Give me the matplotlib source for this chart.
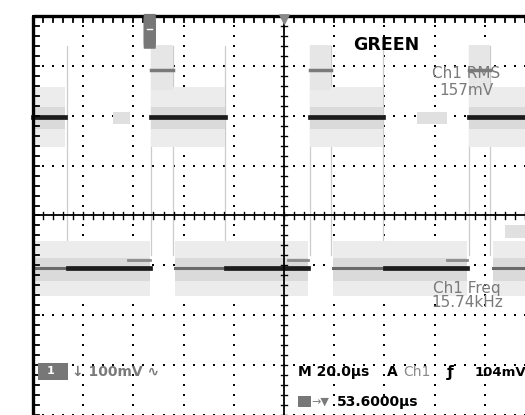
import numpy as np
import matplotlib
matplotlib.use("Agg")
import matplotlib.pyplot as plt
from matplotlib.patches import Rectangle, FancyBboxPatch

# --------------------
# scope trace data (time in us, level in divisions)
# --------------------
top_level = 1.98
top_dark = [(0, 12.7), (47.0, 76.5), (110.4, 139.4), (173.7, 200)]
top_blobs = [(31.9, 38.6), (153.0, 165.0)]
top_noise = 0.6

pulse_level = 2.93
pulse_segs = [(47.0, 55.8), (110.4, 118.7), (173.7, 182.1)]

bot_level = -1.06
bot_segs = [(0, 46.6), (56.6, 109.6), (119.5, 172.9), (183.3, 200)]
bot_dark = [(14.0, 46.6), (76.9, 109.6), (140.2, 172.9)]
bot_bump_level = -0.9
bot_bumps = [(37.8, 46.6), (101.6, 109.6), (165.0, 172.9)]
bot_noise = 0.55

edges = [13.5, 47.0, 55.8, 76.5, 110.4, 118.7, 139.4, 173.7, 182.1]

rms_text = ["Ch1 RMS", "157mV"]
freq_text = ["Ch1 Freq", "15.74kHz"]

fig = plt.figure(figsize=(5.25, 4.15), dpi=100)
ax = fig.add_axes([0, 0, 1, 1])
ax.set_xlim(-13.15, 196.0)
ax.set_ylim(-4.01, 4.33)
ax.axis("off")

# --------------------
# graticule
# --------------------
dot_x, dot_y = [], []
for t in range(20, 200, 20):
    if t == 100:
        continue
    for d in np.arange(-4, 4.01, 0.2):
        dot_x.append(t); dot_y.append(d)
for d in range(-4, 4):
    if d == 0:
        continue
    for t in np.arange(0, 200.1, 4):
        dot_x.append(t); dot_y.append(d)
ax.scatter(dot_x, dot_y, s=1.2, c="black", marker="s", linewidths=0, zorder=1)

ax.plot([0, 200], [4, 4], color="black", lw=2.4, zorder=5, solid_capstyle="butt")
ax.plot([0, 0], [-4.1, 4], color="black", lw=2.4, zorder=5, solid_capstyle="butt")
ax.plot([0, 200], [0, 0], color="black", lw=1.3, zorder=5)
ax.plot([100, 100], [-4.1, 4], color="black", lw=1.3, zorder=5)
for t in np.arange(0, 200.1, 4):
    ax.plot([t, t], [4, 3.88], color="black", lw=1.3, zorder=5)
    ax.plot([t, t], [-0.07, 0.07], color="black", lw=1.0, zorder=5)
for d in np.arange(-4, 4.01, 0.2):
    ax.plot([0, 2.4], [d, d], color="black", lw=1.3, zorder=5)
    ax.plot([98.8, 101.2], [d, d], color="black", lw=1.0, zorder=5)

# --------------------
# traces
# --------------------
for e in edges:
    ax.plot([e, e], [-0.8, 3.4], color="#cccccc", lw=0.9, zorder=2)

for a, b in top_dark:
    ax.fill_between([a, b], top_level - top_noise, top_level + top_noise,
                    color="#ececec", lw=0, zorder=2)
    ax.fill_between([a, b], top_level - 0.25, top_level + 0.2,
                    color="#dadada", lw=0, zorder=2)
    ax.plot([a, b], [top_level, top_level], color="#1c1c1c", lw=3.4, zorder=4)
for a, b in top_blobs:
    ax.fill_between([a, b], top_level - 0.15, top_level + 0.1,
                    color="#e0e0e0", lw=0, zorder=2)

for a, b in pulse_segs:
    ax.fill_between([a, b], pulse_level - 0.4, pulse_level + 0.5,
                    color="#e6e6e6", lw=0, zorder=2)
    ax.plot([a, b], [pulse_level, pulse_level], color="#7a7a7a", lw=2.5, zorder=4)

for a, b in bot_segs:
    ax.fill_between([a, b], bot_level - bot_noise, bot_level + bot_noise,
                    color="#ececec", lw=0, zorder=2)
    ax.fill_between([a, b], bot_level - 0.25, bot_level + 0.2,
                    color="#dadada", lw=0, zorder=2)
    ax.plot([a, b], [bot_level, bot_level], color="#6a6a6a", lw=2.2, zorder=4)
for a, b in bot_dark:
    ax.plot([a, b], [bot_level, bot_level], color="#1c1c1c", lw=3.4, zorder=4)
for a, b in bot_bumps:
    ax.plot([a, b], [bot_bump_level, bot_bump_level], color="#8a8a8a", lw=2.0, zorder=3)
ax.fill_between([188, 200], -0.45, -0.2, color="#e0e0e0", lw=0, zorder=2)

# --------------------
# markers and labels
# --------------------
ax.add_patch(FancyBboxPatch((44.2, 3.55), 4.6, 0.3, boxstyle="round,pad=0.2",
                            fc="#777777", ec="none", zorder=6))
ax.plot([45.6, 47.6], [3.75, 3.75], color="white", lw=1, zorder=7)
ax.scatter([100], [3.95], marker="v", s=45, c="#888888", zorder=6)

ax.text(140.6, 3.43, "GREEN", fontsize=12.5, fontweight="bold", ha="center",
        va="center", color="black", zorder=8)
ax.text(172.5, 2.86, rms_text[0], fontsize=11, ha="center", va="center",
        color="#7a7a7a", zorder=8)
ax.text(172.5, 2.52, rms_text[1], fontsize=11, ha="center", va="center",
        color="#7a7a7a", zorder=8)
ax.text(172.9, -1.46, freq_text[0], fontsize=11, ha="center", va="center",
        color="#7a7a7a", zorder=8)
ax.text(172.9, -1.74, freq_text[1], fontsize=11, ha="center", va="center",
        color="#7a7a7a", zorder=8)

ax.add_patch(Rectangle((2.0, -3.3), 12.0, 0.34, fc="#777777", ec="none", zorder=6))
ax.text(7.0, -3.13, "1", fontsize=8, color="white", ha="center", va="center",
        fontweight="bold", zorder=7)
ax.text(15.5, -3.14, "\u2193 100mV \u223f", fontsize=10, fontweight="bold",
        color="#7a7a7a", ha="left", va="center", zorder=8)

ax.text(105.6, -3.15, "M 20.0\u00b5s", fontsize=10, fontweight="bold",
        color="black", ha="left", va="center", zorder=8)
ax.text(141.0, -3.15, "A", fontsize=10, fontweight="bold",
        color="black", ha="left", va="center", zorder=8)
ax.text(147.4, -3.15, "Ch1", fontsize=10, color="#8a8a8a",
        ha="left", va="center", zorder=8)
ax.text(165.0, -3.15, "\u0192", fontsize=11, fontweight="bold",
        color="black", ha="left", va="center", zorder=8)
ax.text(176.0, -3.15, "104mV", fontsize=9.5, fontweight="bold",
        color="black", ha="left", va="center", zorder=8)

ax.add_patch(Rectangle((105.6, -3.84), 5.2, 0.22, fc="#777777", ec="none", zorder=6))
ax.text(110.8, -3.74, "\u2192\u25bc", fontsize=8, color="#7a7a7a",
        ha="left", va="center", zorder=8)
ax.text(121.1, -3.75, "53.6000\u00b5s", fontsize=10, fontweight="bold",
        color="black", ha="left", va="center", zorder=8)

fig.savefig("out.png", dpi=100, facecolor="white")
